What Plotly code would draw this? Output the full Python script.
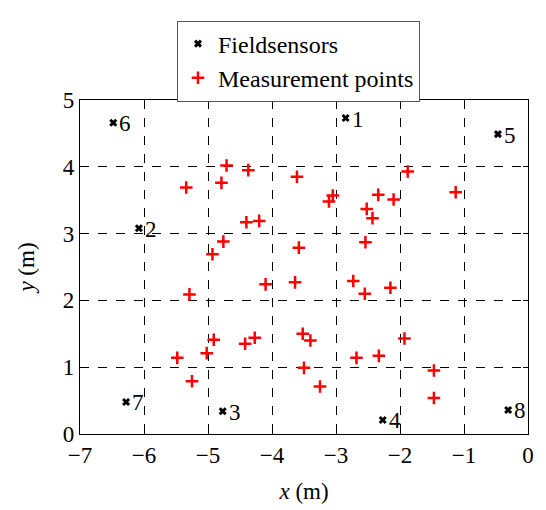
import plotly.graph_objects as go

sensor_x = [-2.85, -6.08, -4.77, -2.27, -0.47, -6.48, -6.28, -0.31]
sensor_y = [4.73, 3.08, 0.34, 0.21, 4.49, 4.66, 0.48, 0.36]
sensor_labels = ["1", "2", "3", "4", "5", "6", "7", "8"]

meas_x = [-5.34, -4.71, -4.79, -4.37, -4.40, -4.20, -4.76, -4.93,
          -3.61, -1.88, -1.13, -3.05, -3.11, -2.34, -2.10, -2.52, -2.43, -3.58, -2.54,
          -5.29, -4.10, -3.64, -5.48, -5.02, -4.91, -4.42, -4.27, -5.25,
          -2.73, -2.55, -2.15, -3.52, -3.40, -1.93, -2.68, -2.33, -3.50, -1.47, -3.25, -1.47]
meas_y = [3.69, 4.02, 3.76, 3.95, 3.17, 3.19, 2.88, 2.69,
          3.85, 3.93, 3.62, 3.57, 3.48, 3.58, 3.51, 3.37, 3.23, 2.79, 2.87,
          2.09, 2.24, 2.27, 1.14, 1.21, 1.41, 1.35, 1.44, 0.79,
          2.29, 2.10, 2.19, 1.50, 1.40, 1.43, 1.14, 1.17, 0.99, 0.95, 0.71, 0.54]

x_ticks = [-7, -6, -5, -4, -3, -2, -1, 0]
y_ticks = [0, 1, 2, 3, 4, 5]

FONT = "Liberation Serif"
FS = 23

fig = go.Figure()
fig.add_trace(go.Scatter(
    x=sensor_x, y=sensor_y, mode="markers", name="Fieldsensors",
    marker=dict(symbol="x-thin", size=6, color="black", line=dict(width=3, color="black")),
))
fig.add_trace(go.Scatter(
    x=meas_x, y=meas_y, mode="markers", name="Measurement points",
    marker=dict(symbol="cross-thin", size=9, color="red", line=dict(width=2.5, color="red")),
))

for sx, sy, lab in zip(sensor_x, sensor_y, sensor_labels):
    fig.add_annotation(x=sx, y=sy, text=lab, showarrow=False, xanchor="left", yanchor="middle",
                       xshift=4, yshift=-1, font=dict(family=FONT, size=FS, color="black"))

axis_common = dict(
    showline=True, linecolor="black", linewidth=1.2, mirror="ticks",
    ticks="inside", ticklen=5, tickcolor="black",
    showgrid=True, gridcolor="black", gridwidth=1, griddash="dash",
    zeroline=False, tickfont=dict(family=FONT, size=FS, color="black"),
    automargin=False,
)

fig.update_xaxes(range=[-7, 0], tickvals=x_ticks,
                 title=dict(text="<i>x</i> (m)", font=dict(family=FONT, size=FS, color="black"), standoff=16),
                 **axis_common)
fig.update_yaxes(range=[0, 5], tickvals=y_ticks,
                 title=dict(text="<i>y</i> (m)", font=dict(family=FONT, size=FS, color="black"), standoff=21),
                 **axis_common)

fig.update_layout(
    width=546, height=510,
    margin=dict(l=72, r=26, t=82, b=84),
    plot_bgcolor="white", paper_bgcolor="white",
    font=dict(family=FONT, size=FS, color="black"),
    legend=dict(x=0.4877, xanchor="center", y=1.238, yanchor="top",
                bordercolor="#555555", borderwidth=1, bgcolor="white",
                font=dict(family=FONT, size=24, color="black"),
                itemwidth=30, tracegroupgap=0),
)

fig.write_html("out.html")
